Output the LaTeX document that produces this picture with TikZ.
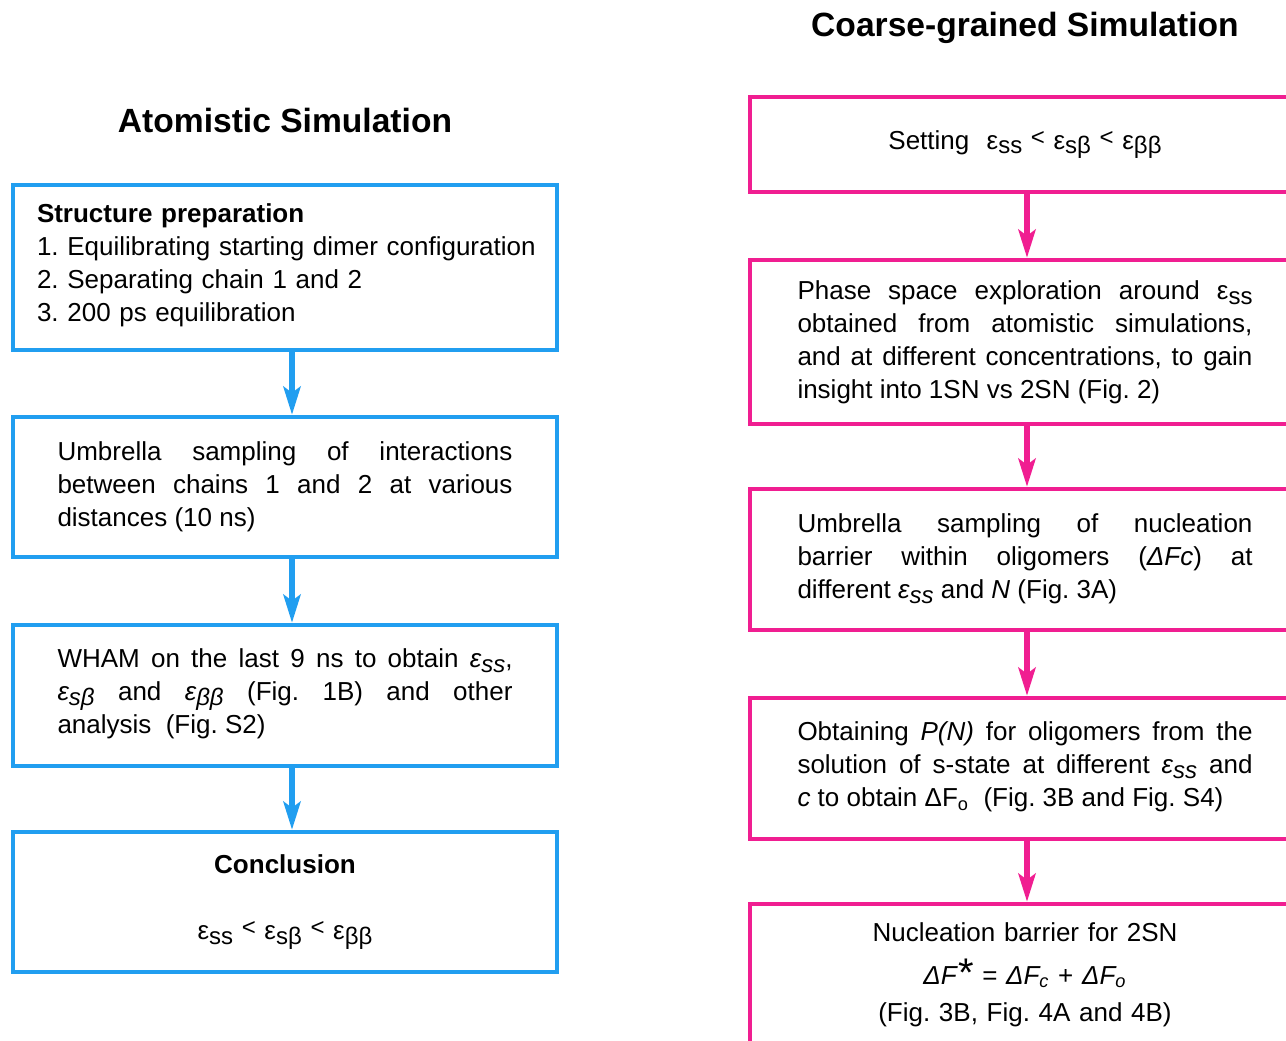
\documentclass[tikz,border=0pt]{standalone}
\usepackage{fontspec}
\setmainfont{Liberation Sans}
\usepackage{xcolor}
\usetikzlibrary{arrows.meta}
\definecolor{atomblue}{RGB}{33,158,240}
\definecolor{cgpink}{RGB}{240,30,145}
\hyphenpenalty=10000
\tolerance=9999
\frenchspacing
\newcommand{\sbs}[1]{\raisebox{-2.4pt}{\fontsize{12}{12}\selectfont #1}}
\newcommand{\lessth}{\raisebox{2pt}{\fontsize{12}{12}\selectfont <}}
\newcommand{\nudge}[1]{\par\vspace*{#1}\hrule height0pt width0pt}
\begin{document}
\begin{tikzpicture}[x=0.5pt,y=-0.5pt,
    every node/.style={font=\fontsize{13}{16.5}\selectfont},
    title/.style={font=\fontsize{16.8}{20}\selectfont\bfseries},
    abox/.style={draw=atomblue,line width=2.2pt,inner xsep=22.25pt,text width=227.5pt,align=justify},
    cbox/.style={draw=cgpink,line width=2.2pt,inner xsep=23.75pt,text width=227.5pt,align=justify},
    flow/.style={line width=2.8pt,-{Stealth[length=14pt,width=8.5pt,inset=3pt]}}]
                    \useasboundingbox (0,0) rectangle (1286,1040);
                    \clip (0,0) rectangle (1286,1040);

                    \node[title] (TA) at (285,120) {Atomistic Simulation};
                    \node[title] (TC) at (1025,28) {Coarse-grained Simulation};

                    \node[abox,inner xsep=8pt,text width=256pt,align=left,minimum height=82.5pt] (A1) at (285,267.5) {\hspace*{4pt}\textbf{Structure preparation}\\\hspace*{4pt}1. Equilibrating starting dimer configuration\\\hspace*{4pt}2. Separating chain 1 and 2\\\hspace*{4pt}3. 200 ps equilibration\nudge{2.3pt}};
                    \node[abox,minimum height=70pt] (A2) at (285,487) {Umbrella sampling of interactions\linebreak between chains 1 and 2 at various\linebreak distances (10 ns)};
                    \node[abox,minimum height=70.5pt] (A3) at (285,695.5) {WHAM on the last 9 ns to obtain \textit{ε\sbs{ss}},\linebreak \textit{ε\sbs{sβ}} and \textit{ε\sbs{ββ}} (Fig. 1B) and other\linebreak analysis\ \ (Fig. S2)\nudge{1.3pt}};
                    \node[abox,align=center,minimum height=70pt] (A4) at (285,902) {\textbf{Conclusion}\\[16.5pt]ε\sbs{ss} \lessth{} ε\sbs{sβ} \lessth{} ε\sbs{ββ}};

                    \node[cbox,align=center,minimum height=47.5pt] (C1) at (1025,144.5) {Setting\ \ ε\sbs{ss} \lessth{} ε\sbs{sβ} \lessth{} ε\sbs{ββ}};
                    \node[cbox,minimum height=82pt] (C2) at (1025,342) {Phase space exploration around ε\sbs{ss}\linebreak obtained from atomistic simulations,\linebreak and at different concentrations, to gain\linebreak insight into 1SN vs 2SN (Fig. 2)};
                    \node[cbox,minimum height=70.5pt] (C3) at (1025,559.5) {Umbrella sampling of nucleation\linebreak barrier within oligomers (\textit{ΔFc}) at\linebreak different \textit{ε\sbs{ss}} and \textit{N} (Fig. 3A)\nudge{0.5pt}};
                    \node[cbox,minimum height=70.5pt] (C4) at (1025,768.5) {Obtaining \textit{P(N)} for oligomers from the\linebreak solution of s-state at different \textit{ε\sbs{ss}} and\linebreak \textit{c} to obtain ΔF\textsubscript{o}\ \ (Fig. 3B and Fig. S4)\nudge{1.3pt}};
                    \node[cbox,align=center,minimum height=70.5pt] (C5) at (1025,974.5) {Nucleation barrier for 2SN\\[5pt]\textit{ΔF}\raisebox{-1pt}{\fontsize{20}{20}\selectfont*} = \textit{ΔF\textsubscript{c}} + \textit{ΔF\textsubscript{o}}\\[2pt](Fig. 3B, Fig. 4A and 4B)};

                    \draw[flow,atomblue] ([xshift=3.5pt]A1.south) -- ([xshift=3.5pt]A2.north);
                    \draw[flow,atomblue] ([xshift=3.5pt]A2.south) -- ([xshift=3.5pt]A3.north);
                    \draw[flow,atomblue] ([xshift=3.5pt]A3.south) -- ([xshift=3.5pt]A4.north);

                    \draw[flow,cgpink] ([xshift=1pt]C1.south) -- ([xshift=1pt]C2.north);
                    \draw[flow,cgpink] ([xshift=1pt]C2.south) -- ([xshift=1pt]C3.north);
                    \draw[flow,cgpink] ([xshift=1pt]C3.south) -- ([xshift=1pt]C4.north);
                    \draw[flow,cgpink] ([xshift=1pt]C4.south) -- ([xshift=1pt]C5.north);
                \end{tikzpicture}
\end{document}
